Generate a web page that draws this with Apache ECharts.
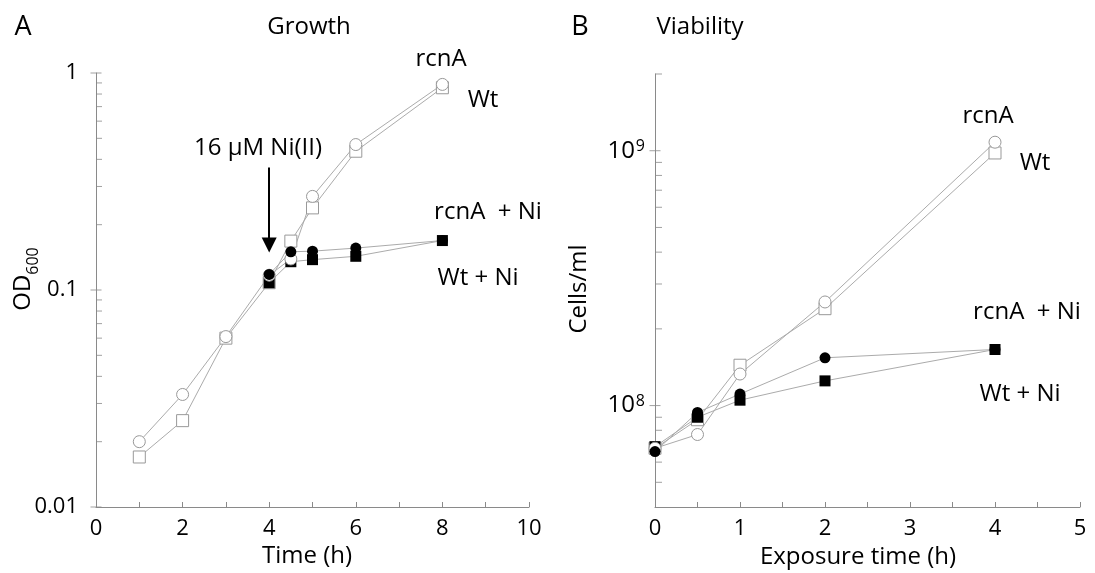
<!DOCTYPE html>
<html>
<head>
<meta charset="utf-8">
<script src="https://cdn.jsdelivr.net/npm/echarts@6/dist/echarts.min.js"></script>
<style>
html,body{margin:0;padding:0;background:#fff;}
#chart{width:1095px;height:573px;}
</style>
</head>
<body>
<div id="chart"></div>
<script>
// ---------- Panel A: Growth ----------
const timeA = [1, 2, 3, 4, 4.5, 5, 6, 8];
const odWt = [0.017, 0.025, 0.060, 0.108, 0.168, 0.239, 0.436, 0.855];
const odRcnA = [0.020, 0.033, 0.061, 0.117, 0.139, 0.270, 0.468, 0.886];
const timeANi = [4, 4.5, 5, 6, 8];
const odWtNi = [0.108, 0.135, 0.138, 0.143, 0.169];
const odRcnANi = [0.118, 0.150, 0.151, 0.156, 0.169];
const yMajorA = [0.01, 0.1, 1];
const yMinorA = [0.02,0.03,0.04,0.05,0.06,0.07,0.08,0.09,0.2,0.3,0.4,0.5,0.6,0.7,0.8,0.9];

// ---------- Panel B: Viability ----------
const timeB = [0, 0.5, 1, 2, 4];
const cellsWt = [6.8e7, 8.8e7, 1.44e8, 2.40e8, 9.8e8];
const cellsRcnA = [6.8e7, 7.7e7, 1.33e8, 2.55e8, 1.08e9];
const cellsWtNi = [6.9e7, 9.0e7, 1.05e8, 1.25e8, 1.66e8];
const cellsRcnANi = [6.6e7, 9.4e7, 1.11e8, 1.54e8, 1.66e8];
const yMajorB = [1e8, 1e9];
const yMinorB = [5e7,6e7,7e7,8e7,9e7,2e8,3e8,4e8,5e8,6e8,7e8,8e8,9e8,2e9];

const FF = "'Open Sans', sans-serif";
const AX = '#8a8a8a';
const LN = '#ababab';

function zip(xs, ys){ return xs.map((x,i)=>[x, ys[i]]); }

function openSeries(name, xi, xs, ys, sym){
  return {type:'line', name, xAxisIndex:xi, yAxisIndex:xi, data:zip(xs,ys),
    symbol:sym, symbolSize:12, showSymbol:true,
    lineStyle:{color:LN, width:1},
    itemStyle:{color:'#fff', borderColor:'#999', borderWidth:1},
    emphasis:{disabled:true}, animation:false, z:3};
}
function filledSeries(name, xi, xs, ys, sym, size){
  return {type:'line', name, xAxisIndex:xi, yAxisIndex:xi, data:zip(xs,ys),
    symbol:sym, symbolSize:size, showSymbol:true,
    lineStyle:{color:LN, width:1},
    itemStyle:{color:'#000', borderColor:'#000', borderWidth:0},
    emphasis:{disabled:true}, animation:false, z:3};
}
function tickSeries(xi, xmin, vals, size, offset){
  return {type:'scatter', xAxisIndex:xi, yAxisIndex:xi, data:vals.map(v=>[xmin,v]),
    symbol:'rect', symbolSize:size, symbolOffset:offset, clip:false, silent:true,
    itemStyle:{color:AX}, animation:false, z:2};
}

function isPow10(v){ const l = Math.log10(v); return Math.abs(l - Math.round(l)) < 1e-6; }

const labelStyle = {color:'#000', fontFamily:FF, fontSize:22};

function txt(x, y, text, size, rot){
  const o = {type:'text', x, y, style:{text, font:size + "px 'Open Sans'", fill:'#000', align:'center', verticalAlign:'middle'}};
  if (rot) o.rotation = rot;
  return o;
}

const option = {
  animation:false,
  backgroundColor:'#fff',
  grid:[
    {left:96, top:73, width:433, height:434, outerBoundsMode:'none', containLabel:false},
    {left:655, top:74, width:425, height:433, outerBoundsMode:'none', containLabel:false}
  ],
  xAxis:[
    {type:'value', gridIndex:0, min:0, max:10, interval:1,
     axisLine:{onZero:false, lineStyle:{color:AX, width:1}},
     axisTick:{inside:true, length:5, lineStyle:{color:AX}},
     splitLine:{show:false},
     axisLabel:Object.assign({margin:11, formatter:v=> (Math.round(v)%2===0 ? String(Math.round(v)) : '')}, labelStyle)},
    {type:'value', gridIndex:1, min:0, max:5, interval:0.5,
     axisLine:{onZero:false, lineStyle:{color:AX, width:1}},
     axisTick:{inside:true, length:5, lineStyle:{color:AX}},
     splitLine:{show:false},
     axisLabel:Object.assign({margin:11, formatter:v=> (Math.abs(v-Math.round(v))<1e-9 ? String(Math.round(v)) : '')}, labelStyle)}
  ],
  yAxis:[
    {type:'log', gridIndex:0, logBase:10, min:0.01, max:1,
     axisLine:{onZero:false, lineStyle:{color:AX, width:1}},
     axisTick:{show:false}, splitLine:{show:false}, minorTick:{show:false},
     axisLabel:Object.assign({margin:18, formatter:v=> isPow10(v) ? String(Number(v.toPrecision(6))) : ''}, labelStyle)},
    {type:'log', gridIndex:1, logBase:10, min:4e7, max:2e9,
     axisLine:{onZero:false, lineStyle:{color:AX, width:1}},
     axisTick:{show:false}, splitLine:{show:false}, minorTick:{show:false},
     axisLabel:{margin:10, color:'#000',
       formatter:v=> isPow10(v) ? '{b|10}{s|' + Math.round(Math.log10(v)) + '}' : '',
       rich:{
         b:{fontFamily:FF, fontSize:24, color:'#000', verticalAlign:'top'},
         s:{fontFamily:FF, fontSize:16, color:'#000', verticalAlign:'top', padding:[0,0,2,1]}
       }}}
  ],
  series:[
    tickSeries(0, 0, yMinorA, [6,1], [3,0]),
    tickSeries(0, 0, yMajorA, [11,1], [0,0]),
    tickSeries(1, 0, yMinorB, [7,1], [3.5,0]),
    tickSeries(1, 0, yMajorB, [11,1], [0,0]),
    openSeries('Wt', 0, timeA, odWt, 'rect'),
    filledSeries('Wt + Ni', 0, timeANi, odWtNi, 'rect', 11),
    openSeries('rcnA', 0, timeA, odRcnA, 'circle'),
    Object.assign(filledSeries('rcnA + Ni', 0, timeANi, odRcnANi, 'circle', 11), {
      markLine:{silent:true, symbol:['none','triangle'], symbolSize:[15,15], animation:false,
        label:{show:false}, lineStyle:{color:'#000', width:2, type:'solid'},
        data:[[{coord:[4, 0.367]}, {coord:[4, 0.161]}]]}
    }),
    openSeries('Wt', 1, timeB, cellsWt, 'rect'),
    filledSeries('Wt + Ni', 1, timeB, cellsWtNi, 'rect', 11),
    openSeries('rcnA', 1, timeB, cellsRcnA, 'circle'),
    filledSeries('rcnA + Ni', 1, timeB, cellsRcnANi, 'circle', 11)
  ],
  graphic:[
    txt(23, 27, 'A', 27),
    txt(309, 27, 'Growth', 24),
    txt(580, 27, 'B', 27),
    txt(700, 27, 'Viability', 24),
    txt(307, 556, 'Time (h)', 24),
    txt(858, 557, 'Exposure time (h)', 24),
    txt(579, 289, 'Cells/ml', 24, Math.PI/2),
    {type:'text', x:26, y:279, rotation:Math.PI/2, style:{text:'{a|OD}{b|600}', fill:'#000', align:'center', verticalAlign:'middle',
      rich:{a:{fontFamily:FF, fontSize:24, verticalAlign:'bottom', padding:[0,0,6,0]}, b:{fontFamily:FF, fontSize:16, verticalAlign:'bottom'}}}},
    txt(441, 59, 'rcnA', 24),
    txt(483, 100, 'Wt', 24),
    txt(258, 148, '16 µM Ni(II)', 24),
    txt(488, 212, 'rcnA  + Ni', 24),
    txt(478, 278, 'Wt + Ni', 24),
    txt(988, 116, 'rcnA', 24),
    txt(1035, 163, 'Wt', 24),
    txt(1027, 312, 'rcnA  + Ni', 24),
    txt(1020, 394, 'Wt + Ni', 24)
  ]
};

const chart = echarts.init(document.getElementById('chart'), null, {renderer:'canvas'});
chart.setOption(option);
</script>
</body>
</html>
